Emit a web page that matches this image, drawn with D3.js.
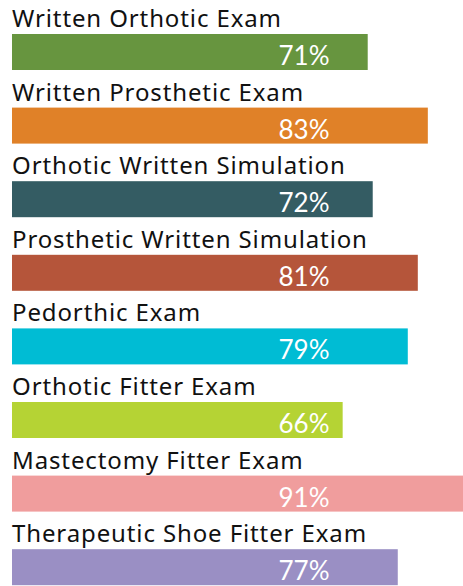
<!DOCTYPE html>
<html>
<head>
<meta charset="utf-8">
<script src="https://cdn.jsdelivr.net/npm/d3@7/dist/d3.min.js"></script>
<style>
html,body{margin:0;padding:0;background:#fff;overflow:hidden;}
text{font-variant-ligatures:none;}
</style>
</head>
<body>
<svg id="chart" width="463" height="586"></svg>
<script>
const categories = ["Written Orthotic Exam","Written Prosthetic Exam","Orthotic Written Simulation","Prosthetic Written Simulation","Pedorthic Exam","Orthotic Fitter Exam","Mastectomy Fitter Exam","Therapeutic Shoe Fitter Exam"];
const values = [71,83,72,81,79,66,91,77];
const colors = ["#67953f","#e08128","#345c63","#b5553a","#00bcd4","#b5d334","#f09d9d","#9a8fc4"];

const svg = d3.select("#chart");
const x = d3.scaleLinear().domain([0,100]).range([12,513]);
const y = d3.scaleBand().domain(categories).range([34, 34+8*73.6]);
const barH = 36;

const g = svg.selectAll("g.row").data(categories).enter().append("g").attr("class","row");
const labels = g.append("text")
  .attr("x",12)
  .attr("y",d=>y(d)-7)
  .attr("font-family","'Noto Sans', sans-serif")
  .attr("font-size",24)
  .attr("fill","#111")
  .text(d=>d);
const first = labels.node();
const w = first.getComputedTextLength();
const ls = (269 - w) / (categories[0].length - 1);
labels.attr("letter-spacing", ls);

g.append("rect")
  .attr("x",x(0))
  .attr("y",d=>y(d))
  .attr("width",(d,i)=>x(values[i])-x(0))
  .attr("height",barH)
  .attr("fill",(d,i)=>colors[i]);
g.append("text")
  .attr("x",304)
  .attr("y",d=>y(d)+31)
  .attr("text-anchor","middle")
  .attr("font-family","Lato, 'Noto Sans', sans-serif")
  .attr("font-size",26)
  .attr("fill","#fff")
  .text((d,i)=>values[i]+"%");
</script>
</body>
</html>
